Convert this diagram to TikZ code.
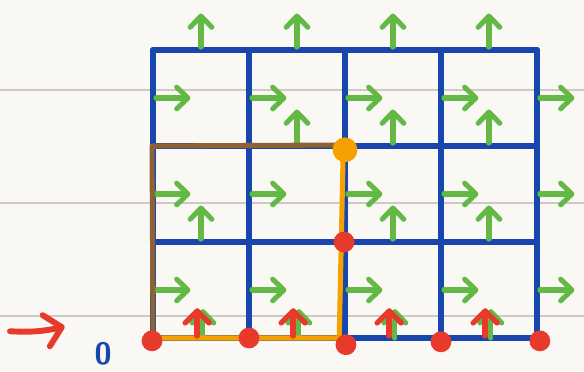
\documentclass[tikz,border=0pt]{standalone}
\usepackage{tikz}
\usetikzlibrary{arrows.meta,positioning,calc}
\definecolor{paper}{HTML}{FAF8F4}
\definecolor{rule}{HTML}{CEC9C3}
\definecolor{gridblue}{HTML}{1747AC}
\definecolor{fieldgreen}{HTML}{62B946}
\definecolor{pathred}{HTML}{E83A2B}
\definecolor{pathbrown}{HTML}{8E6235}
\definecolor{pathorange}{HTML}{F7A100}

\begin{document}
\begin{tikzpicture}[
    x=2.4cm, y=2.4cm,
    gridline/.style={draw=gridblue, line width=4.2pt, line cap=round},
    garrow/.style={draw=fieldgreen, line width=3.6pt, line cap=round,
        -{Straight Barb[length=2.8mm, width=5.4mm, round]}},
    rarrow/.style={draw=pathred, line width=3.8pt, line cap=round,
        -{Straight Barb[length=3mm, width=6mm, round]}},
    walk/.style={line width=3.6pt, line cap=round, line join=round},
    rdot/.style={circle, fill=pathred, inner sep=0pt, minimum size=5.2mm},
    odot/.style={circle, fill=pathorange, inner sep=0pt, minimum size=6.2mm}
]
\useasboundingbox[fill=paper] (-1.594,-0.344) rectangle (4.490,3.521);
\foreach \y in {0.229,1.406,2.583}
    \draw[rule, line width=1.3pt] (-1.594,\y) -- (4.490,\y);

\foreach \i in {0,...,4}
    \foreach \j in {0,...,3}
        \coordinate (g\i\j) at (\i,\j);

\foreach \i in {0,...,4}
    \draw[gridline] (g\i0) -- (g\i3);
\foreach \j in {0,...,3}
    \draw[gridline] (g0\j) -- (g4\j);

\foreach \i in {0,...,4}
    \foreach \j in {0,1,2}
        \draw[garrow] ([shift={(0.03,0.5)}]g\i\j) -- ++(0.36,0);
\foreach \i/\j in {0/3,1/3,2/3,3/3,1/2,2/2,3/2,0/1,2/1,3/1}
    \draw[garrow] ([shift={(0.5,0.03)}]g\i\j) -- ++(0,0.35);
\foreach \i in {0,...,3}
    \draw[garrow] ([shift={(0.52,0.0)}]g\i0) -- ++(0,0.3);

\coordinate (b1) at ([shift={(-0.01,0)}]g02);
\coordinate (b2) at ([shift={(-0.07,0.01)}]g22);
\draw[walk, pathbrown] (g00) -- (b1) -- (b2);
\coordinate (o0) at ([shift={(0.08,0)}]g00);
\coordinate (o1) at ([shift={(-0.06,0)}]g20);
\coordinate (o2) at ([shift={(-0.02,1.88)}]g20);
\draw[walk, pathorange] (o0) -- (o1) -- (o2);

\foreach \i in {0,...,3}
    \draw[rarrow] ([shift={(0.46,0.02)}]g\i0) -- ++(0,0.29);

\node[rdot] (d0) at ([shift={(-0.01,-0.03)}]g00) {};
\node[rdot] (d1) at (g10) {};
\node[rdot] (d2) at ([shift={(0.01,-0.07)}]g20) {};
\node[rdot] (d3) at ([shift={(0,-0.04)}]g30) {};
\node[rdot] (d4) at ([shift={(0.03,-0.03)}]g40) {};
\node[rdot] (d5) at ([shift={(-0.01,0)}]g21) {};
\node[odot] (top) at ([shift={(0,-0.04)}]g22) {};

\coordinate (in0) at (-1.49,0.07);
\coordinate (in1) at (-0.92,0.12);
\draw[rarrow, line width=4.2pt, -{Straight Barb[length=4mm, width=8mm, round]}] (in0) to[bend right=8] (in1);
\node[text=gridblue, inner sep=1pt, font=\fontsize{22}{22}\selectfont\sffamily\bfseries] (zero) at (-0.52,-0.16) {0};
\end{tikzpicture}
\end{document}
